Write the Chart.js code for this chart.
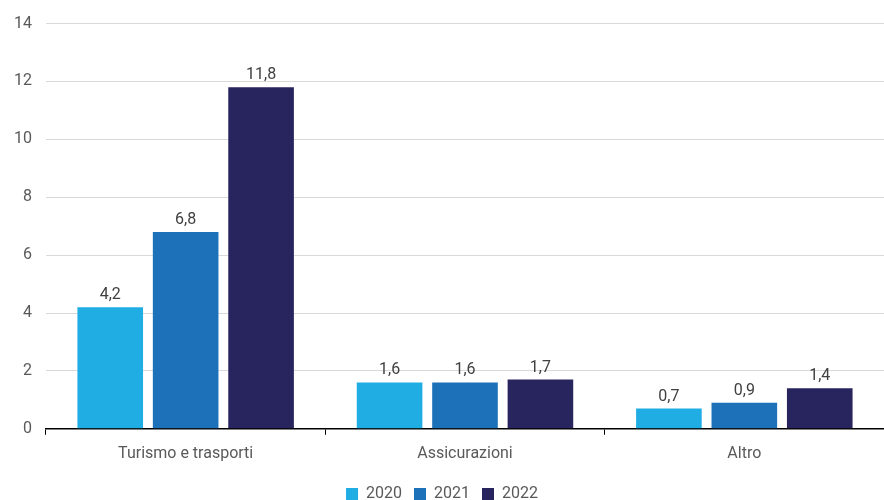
<!DOCTYPE html>
<html><head><meta charset="utf-8">
<script src="https://cdn.jsdelivr.net/npm/chart.js@4/dist/chart.umd.min.js"></script>
<style>html,body{margin:0;padding:0;background:#fff;}#wrap{width:884px;height:500px;}</style>
</head><body><div id="wrap"><canvas id="c"></canvas></div>
<script>
const categories = ["Turismo e trasporti", "Assicurazioni", "Altro"];
const seriesNames = ["2020", "2021", "2022"];
const values2020 = [4.2, 1.6, 0.7];
const values2021 = [6.8, 1.6, 0.9];
const values2022 = [11.8, 1.7, 1.4];
const colors = ["#1FADE3", "#1C71B8", "#27245E"];

const labelPlugin = {
  id: 'valLabels',
  afterDatasetsDraw(chart) {
    const ctx = chart.ctx;
    ctx.save();
    ctx.font = '16px Roboto';
    ctx.fillStyle = '#404040';
    ctx.textAlign = 'center';
    ctx.textBaseline = 'bottom';
    chart.data.datasets.forEach((ds, i) => {
      chart.getDatasetMeta(i).data.forEach((el, j) => {
        ctx.fillText(ds.data[j].toFixed(1).replace('.', ','), el.x, el.y - 4);
      });
    });
    ctx.restore();
  }
};

new Chart(document.getElementById('c'), {
  type: 'bar',
  data: {
    labels: categories,
    datasets: [values2020, values2021, values2022].map((d, i) => ({
      label: seriesNames[i], data: d, backgroundColor: colors[i],
      categoryPercentage: 0.81, barPercentage: 0.87
    }))
  },
  options: {
    responsive: true, maintainAspectRatio: false, animation: false,
    layout: { padding: { top: 0, right: 0, left: 0, bottom: -12 } },
    plugins: {
      legend: {
        position: 'bottom',
        labels: { boxWidth: 12, boxHeight: 12, color: '#595959', font: { family: 'Roboto', size: 16 }, padding: 12 }
      },
      tooltip: { enabled: false }
    },
    scales: {
      x: {
        grid: { display: true, drawOnChartArea: false, color: '#000', tickLength: 6, offset: true },
        border: { color: '#000', width: 1.5 },
        ticks: { color: '#595959', font: { family: 'Roboto', size: 16 }, padding: 10 }
      },
      y: {
        min: 0, max: 14,
        ticks: { stepSize: 2, color: '#595959', font: { family: 'Roboto', size: 16 }, padding: 14 },
        grid: { color: '#d9d9d9', drawTicks: false },
        border: { display: false }
      }
    }
  },
  plugins: [labelPlugin]
});
</script></body></html>
